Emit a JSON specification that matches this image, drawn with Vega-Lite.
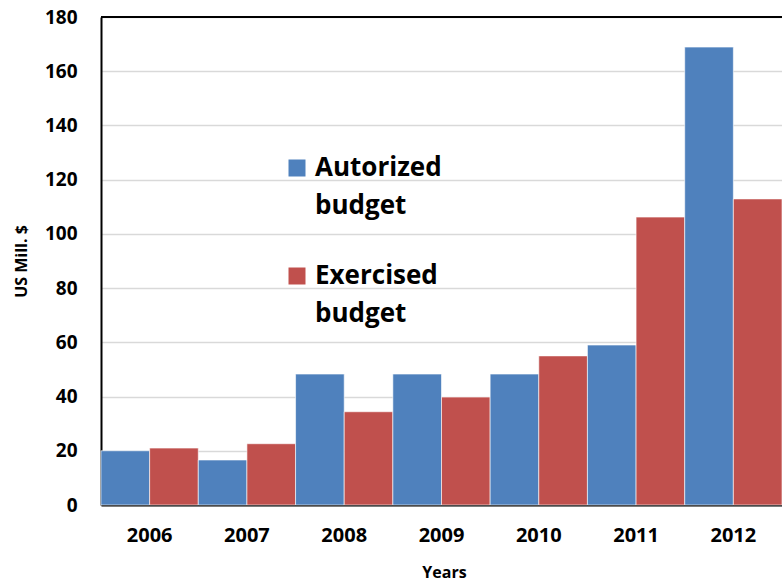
{
  "$schema": "https://vega.github.io/schema/vega-lite/v6.json",
  "width": 681,
  "height": 488,
  "autosize": {"type": "none"},
  "padding": {"left": 101, "top": 17, "right": 0, "bottom": 78},
  "background": "#ffffff",
  "config": {
    "view": {"stroke": null},
    "font": "Open Sans",
    "style": {"guide-label": {"lineHeight": 38}}
  },
  "data": {
    "values": [
      {"year": "2006", "series": "Autorized budget", "value": 20.0},
      {"year": "2006", "series": "Exercised budget", "value": 21.0},
      {"year": "2007", "series": "Autorized budget", "value": 16.6},
      {"year": "2007", "series": "Exercised budget", "value": 22.6},
      {"year": "2008", "series": "Autorized budget", "value": 48.3},
      {"year": "2008", "series": "Exercised budget", "value": 34.4},
      {"year": "2009", "series": "Autorized budget", "value": 48.3},
      {"year": "2009", "series": "Exercised budget", "value": 39.8},
      {"year": "2010", "series": "Autorized budget", "value": 48.3},
      {"year": "2010", "series": "Exercised budget", "value": 55.0},
      {"year": "2011", "series": "Autorized budget", "value": 59.0},
      {"year": "2011", "series": "Exercised budget", "value": 106.2},
      {"year": "2012", "series": "Autorized budget", "value": 168.9},
      {"year": "2012", "series": "Exercised budget", "value": 112.9}
    ]
  },
  "layer": [
    {
      "mark": {"type": "bar", "stroke": "#ffffff", "strokeWidth": 0.6},
      "encoding": {
        "x": {
          "field": "year",
          "type": "nominal",
          "title": "Years",
          "scale": {"paddingInner": 0, "paddingOuter": 0},
          "axis": {
            "labelAngle": 0,
            "labelFont": "Open Sans",
            "labelFontWeight": "bold",
            "labelFontSize": 20,
            "labelColor": "#000000",
            "labelPadding": 20,
            "ticks": false,
            "domainColor": "#000000",
            "domainWidth": 2,
            "titleFont": "Open Sans",
            "titleFontWeight": "bold",
            "titleFontSize": 16,
            "titleColor": "#000000",
            "titleX": 343,
            "titleY": 67,
            "titleBaseline": "middle"
          }
        },
        "xOffset": {
          "field": "series",
          "sort": ["Autorized budget", "Exercised budget"],
          "scale": {"paddingInner": 0, "paddingOuter": 0}
        },
        "y": {
          "field": "value",
          "type": "quantitative",
          "title": "US Mill. $",
          "scale": {"domain": [0, 180], "nice": false},
          "axis": {
            "values": [0, 20, 40, 60, 80, 100, 120, 140, 160, 180],
            "labelFont": "Open Sans",
            "labelFontWeight": "bold",
            "labelFontSize": 19,
            "labelColor": "#000000",
            "labelPadding": 24,
            "ticks": false,
            "domainColor": "#000000",
            "domainWidth": 2,
            "gridColor": "#d9d9d9",
            "gridWidth": 1.5,
            "titleFont": "Open Sans",
            "titleFontWeight": "bold",
            "titleFontSize": 16,
            "titleColor": "#000000",
            "titleX": -80,
            "titleY": 244,
            "titleAngle": -90,
            "titleAlign": "center",
            "titleBaseline": "middle"
          }
        },
        "color": {
          "field": "series",
          "type": "nominal",
          "sort": ["Autorized budget", "Exercised budget"],
          "scale": {"range": ["#4F81BD", "#C0504D"]},
          "legend": {
            "title": null,
            "orient": "none",
            "legendX": 183,
            "legendY": 138,
            "symbolType": "square",
            "symbolSize": 289,
            "symbolStrokeWidth": 0,
            "symbolOpacity": 1,
            "labelFont": "Open Sans",
            "labelFontWeight": "bold",
            "labelFontSize": 26,
            "labelColor": "#000000",
            "labelExpr": "split(datum.label, ' ')",
            "labelBaseline": "middle",
            "labelOffset": 5,
            "labelLimit": 300,
            "rowPadding": 44
          }
        }
      }
    },
    {
      "mark": {"type": "rule", "color": "#000000", "strokeWidth": 2},
      "encoding": {"y": {"datum": 180}}
    }
  ]
}
